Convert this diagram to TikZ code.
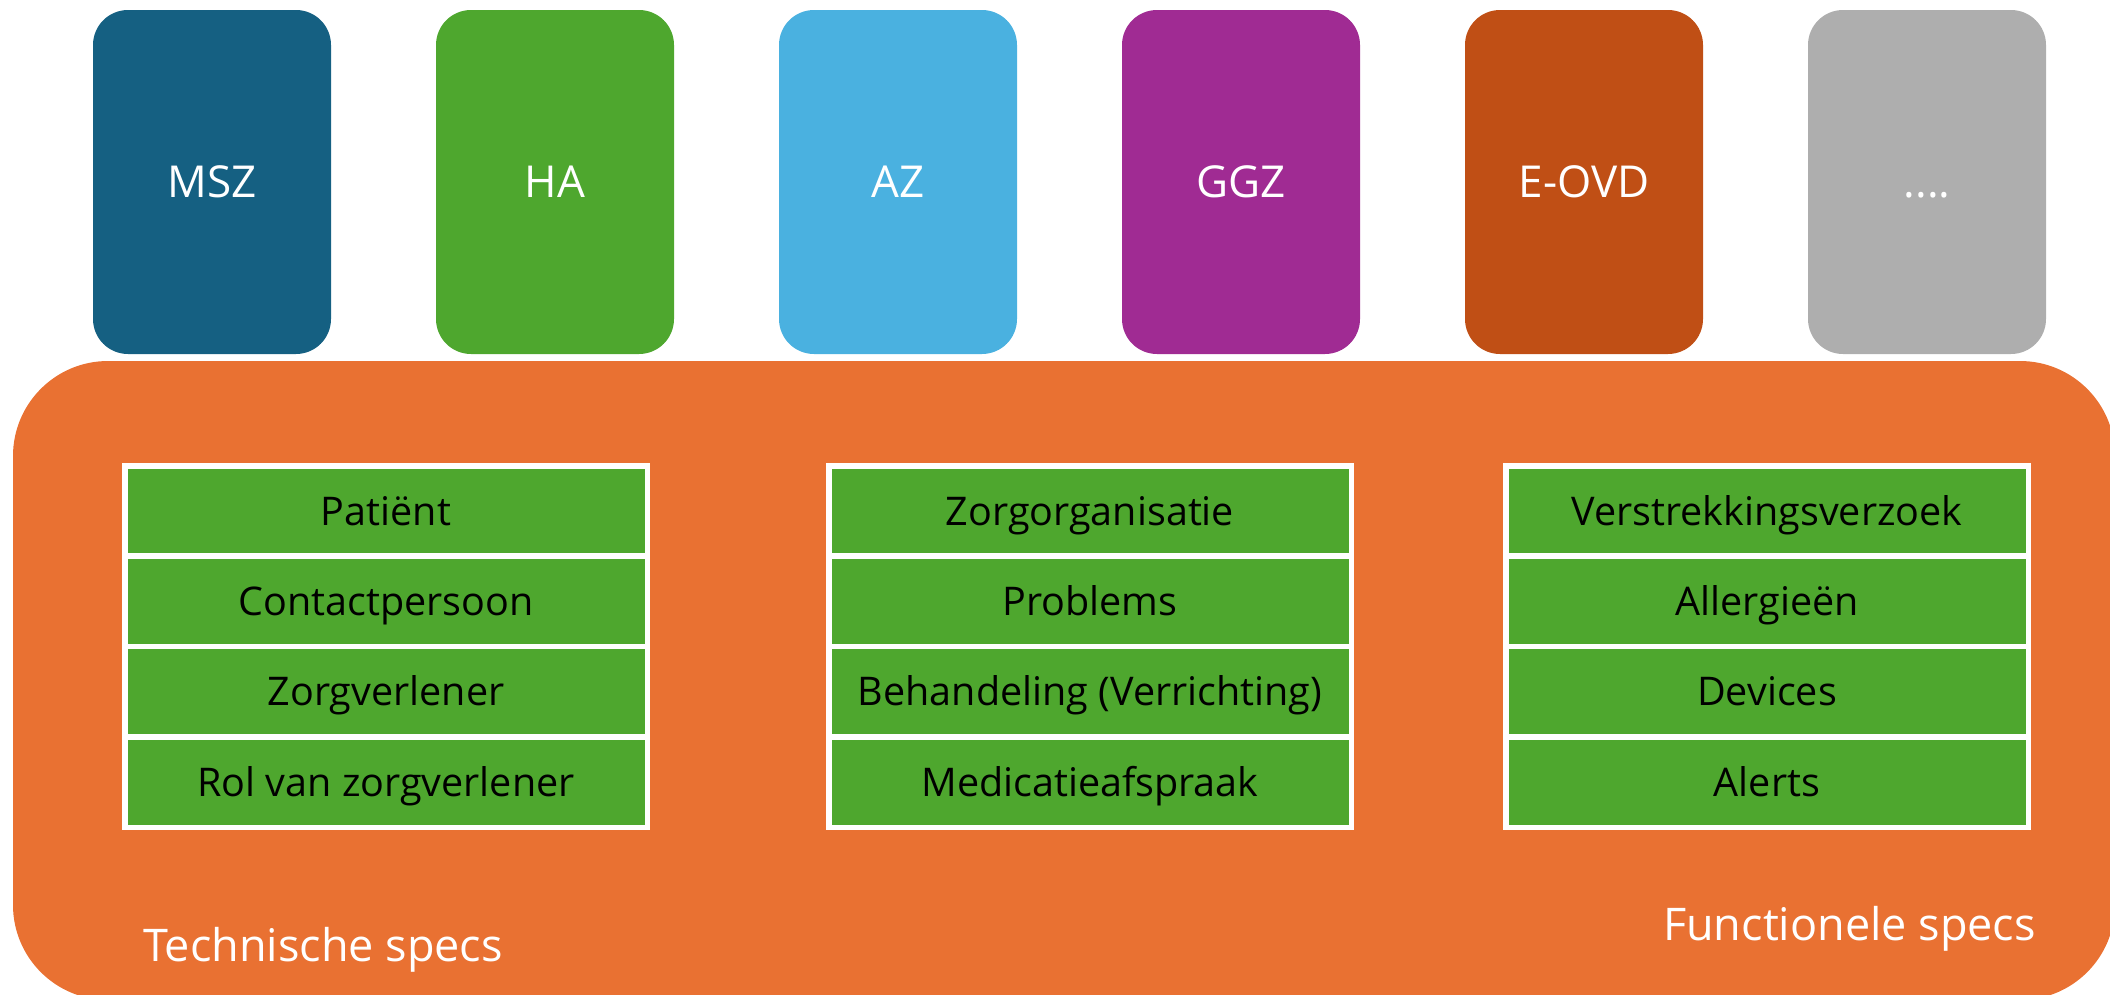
\documentclass[tikz,border=0pt]{standalone}
\usepackage{fontspec}
\setmainfont{Open Sans}
\definecolor{mszblue}{HTML}{156082}
\definecolor{hagreen}{HTML}{4EA72E}
\definecolor{azblue}{HTML}{4AB1E0}
\definecolor{ggzpurple}{HTML}{A02B93}
\definecolor{eovdbrown}{HTML}{C04F15}
\definecolor{moregray}{HTML}{AEAEAE}
\definecolor{specorange}{HTML}{E97132}
\definecolor{cellgreen}{HTML}{4EA72E}
\begin{document}
\begin{tikzpicture}[x=1pt,y=-1pt,
  topbox/.style={rounded corners=35pt, minimum width=238pt, minimum height=344pt, inner sep=0pt,
    text=white, font=\fontsize{44pt}{52pt}\selectfont, text height=31.4pt, text depth=0pt},
  cell/.style={draw=white, line width=5.5pt, fill=cellgreen, minimum width=522.5pt,
    minimum height=90.375pt, inner sep=0pt, text=black,
    font=\fontsize{39.5pt}{47pt}\selectfont, text height=28.2pt, text depth=0pt},
  specslabel/.style={text=white, inner sep=0pt, font=\fontsize{45pt}{54pt}\selectfont}
]
\useasboundingbox (0,0) rectangle (2110,994);
\clip (0,0) rectangle (2110,994);

% top boxes
\node[topbox, fill=mszblue]   (msz)  at (212,182)  {MSZ};
\node[topbox, fill=hagreen]   (ha)   at (555,182)  {HA};
\node[topbox, fill=azblue]    (az)   at (898,182)  {AZ};
\node[topbox, fill=ggzpurple] (ggz)  at (1241,182) {GGZ};
\node[topbox, fill=eovdbrown] (eovd) at (1584,182) {E-OVD};
\node[topbox, fill=moregray]  (more) at (1927,182) {....};

% big orange area
\node[fill=specorange, rounded corners=95pt, minimum width=2102pt, minimum height=639pt, inner sep=0pt]
  (base) at (1064,680.5) {};

% table 1
\node[cell] (ta) at (386,510.94) {Patiënt};
\node[cell] (tb) at (386,601.31) {Contactpersoon};
\node[cell] (tc) at (386,691.69) {Zorgverlener};
\node[cell] (td) at (386,782.06) {Rol van zorgverlener};
% table 2
\node[cell] (ma) at (1090,510.94) {Zorgorganisatie};
\node[cell] (mb) at (1090,601.31) {Problems};
\node[cell] (mc) at (1090,691.69) {Behandeling (Verrichting)};
\node[cell] (md) at (1090,782.06) {Medicatieafspraak};
% table 3
\node[cell] (fa) at (1767,510.94) {Verstrekkingsverzoek};
\node[cell] (fb) at (1767,601.31) {Allergieën};
\node[cell] (fc) at (1767,691.69) {Devices};
\node[cell] (fd) at (1767,782.06) {Alerts};

% labels
\node[specslabel, anchor=base west] (techn) at (143,961) {Technische specs};
\node[specslabel, anchor=base east] (func) at (2036,940) {Functionele specs};
\end{tikzpicture}
\end{document}
